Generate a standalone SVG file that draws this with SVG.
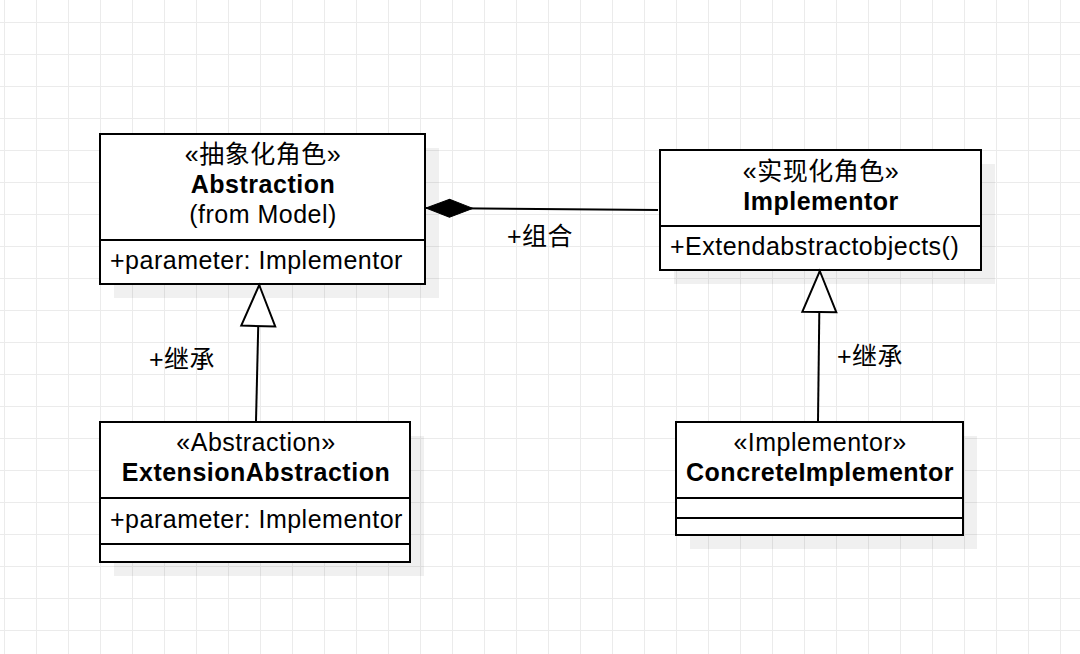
<svg xmlns="http://www.w3.org/2000/svg" width="1080" height="654" viewBox="0 0 1080 654">
<defs>
<pattern id="grid" x="4" y="22" width="32" height="32" patternUnits="userSpaceOnUse">
<path d="M0.5,0 V32 M0,0.5 H32" stroke="#ebebeb" stroke-width="1" fill="none"/>
</pattern>
<marker id="tri" markerUnits="userSpaceOnUse" markerWidth="46" markerHeight="40" viewBox="-2 -2 46 40" refX="41" refY="17" orient="auto">
<path d="M0,0 L41,17 L0,34 Z" fill="#ffffff" stroke="#000000" stroke-width="2"/>
</marker>
<marker id="diamond" markerUnits="userSpaceOnUse" markerWidth="52" markerHeight="24" viewBox="-2 -2 52 24" refX="47" refY="9" orient="auto">
<path d="M0,9 L23.5,0 L47,9 L23.5,18 Z" fill="#000000" stroke="#000000" stroke-width="1"/>
</marker>
</defs>
<style>
.box{fill:#ffffff;stroke:#000000;stroke-width:2}
.shadow{fill:#000000;fill-opacity:0.06}
.div{stroke:#000000;stroke-width:2}
text{font-family:"Liberation Sans","Noto Sans CJK SC",sans-serif;font-size:25px;letter-spacing:0.5px;fill:#000000}
.c{text-anchor:middle}
.b{font-weight:bold}
.edge{fill:none;stroke:#000000;stroke-width:2}
</style>
<rect width="1080" height="654" fill="#ffffff"/>
<rect width="1080" height="654" fill="url(#grid)"/>

<g id="Abstraction">
<rect class="shadow" x="114" y="148" width="325" height="150"/>
<rect class="box" x="100" y="134" width="325" height="150"/>
<line class="div" x1="100" y1="240" x2="425" y2="240"/>
<text class="c" x="263" y="163">«抽象化角色»</text>
<text class="c b" x="263" y="193">Abstraction</text>
<text class="c" x="263" y="223">(from Model)</text>
<text x="110" y="269">+parameter: Implementor</text>
</g>

<g id="Implementor">
<rect class="shadow" x="674" y="164" width="321" height="120"/>
<rect class="box" x="660" y="150" width="321" height="120"/>
<line class="div" x1="660" y1="226" x2="981" y2="226"/>
<text class="c" x="821" y="180">«实现化角色»</text>
<text class="c b" x="821" y="210">Implementor</text>
<text x="670" y="255">+Extendabstractobjects()</text>
</g>

<g id="ExtensionAbstraction">
<rect class="shadow" x="114" y="436" width="310" height="140"/>
<rect class="box" x="100" y="422" width="310" height="140"/>
<line class="div" x1="100" y1="498" x2="410" y2="498"/>
<line class="div" x1="100" y1="544" x2="410" y2="544"/>
<text class="c" x="256" y="451">«Abstraction»</text>
<text class="c b" x="256" y="481">ExtensionAbstraction</text>
<text x="110" y="528">+parameter: Implementor</text>
</g>

<g id="ConcreteImplementor">
<rect class="shadow" x="690" y="436" width="287" height="113"/>
<rect class="box" x="676" y="422" width="287" height="113"/>
<line class="div" x1="676" y1="498" x2="963" y2="498"/>
<line class="div" x1="676" y1="518" x2="963" y2="518"/>
<text class="c" x="820" y="451">«Implementor»</text>
<text class="c b" x="820" y="481">ConcreteImplementor</text>
</g>

<g id="connectors">
<path class="edge" d="M658,210 L426,208" marker-end="url(#diamond)"/>
<text x="507" y="245">+组合</text>
<path class="edge" d="M256,421 L259.2,285" marker-end="url(#tri)"/>
<text x="149" y="368">+继承</text>
<path class="edge" d="M818,421 L819.8,271" marker-end="url(#tri)"/>
<text x="837" y="365">+继承</text>
</g>
</svg>
